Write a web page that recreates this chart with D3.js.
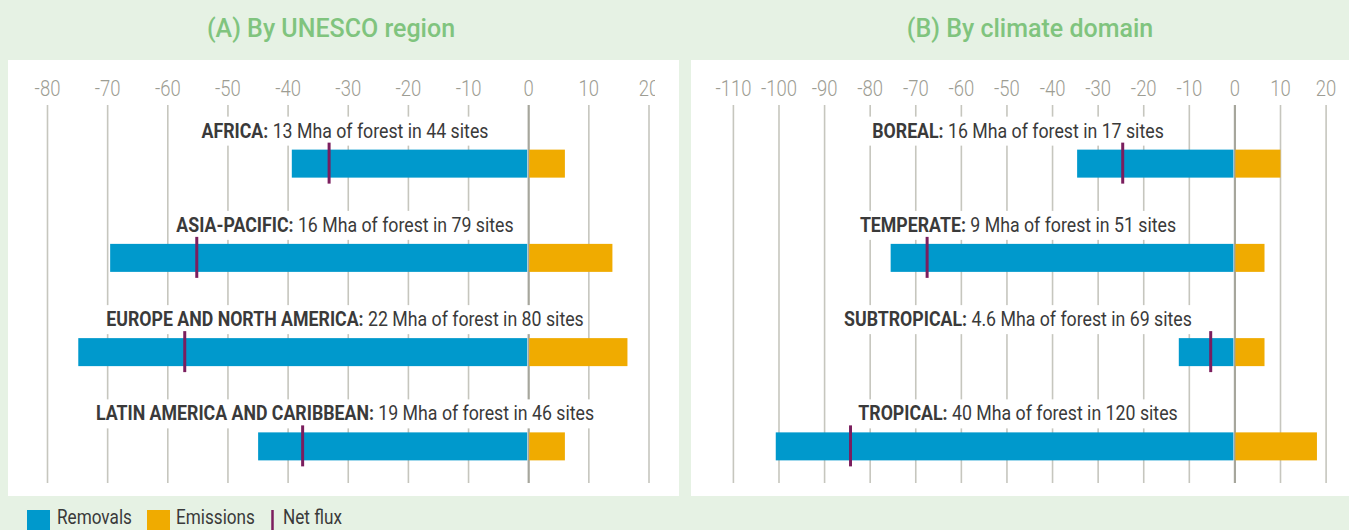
<!DOCTYPE html>
<html><head><meta charset="utf-8">
<script src="https://cdn.jsdelivr.net/npm/d3@7"></script>
<style>
html,body{margin:0;padding:0;background:#e6f2e4;}
svg{display:block;}
</style></head>
<body>
<svg id="chart" width="1349" height="530"></svg>
<script>
// ---------- DATA ----------
const regionCategories = ["AFRICA", "ASIA-PACIFIC", "EUROPE AND NORTH AMERICA", "LATIN AMERICA AND CARIBBEAN"];
const regionDescriptions = ["13 Mha of forest in 44 sites", "16 Mha of forest in 79 sites", "22 Mha of forest in 80 sites", "19 Mha of forest in 46 sites"];
const regionRemovals = [-39.3, -69.5, -74.8, -44.9];
const regionEmissions = [6.1, 14.0, 16.5, 6.1];
const regionNetFlux = [-33.1, -55.1, -57.1, -37.5];
const regionTicks = [-80, -70, -60, -50, -40, -30, -20, -10, 0, 10, 20];

const climateCategories = ["BOREAL", "TEMPERATE", "SUBTROPICAL", "TROPICAL"];
const climateDescriptions = ["16 Mha of forest in 17 sites", "9 Mha of forest in 51 sites", "4.6 Mha of forest in 69 sites", "40 Mha of forest in 120 sites"];
const climateRemovals = [-34.5, -75.4, -12.2, -100.6];
const climateEmissions = [10.1, 6.6, 6.6, 18.1];
const climateNetFlux = [-24.5, -67.4, -5.2, -84.2];
const climateTicks = [-110, -100, -90, -80, -70, -60, -50, -40, -30, -20, -10, 0, 10, 20];

const panelTitles = ["(A) By UNESCO region", "(B) By climate domain"];
const legendLabels = ["Removals", "Emissions", "Net flux"];

// ---------- STYLE ----------
const C = {
  bg: "#e6f2e4", panel: "#ffffff", title: "#80c47e",
  removals: "#0099cc", emissions: "#f0ab00", net: "#7b1e5e",
  grid: "#c6c6be", zero: "#a6a69c", tick: "#9d9d93", text: "#3a3a3a"
};
const FONT = "Roboto, 'Noto Sans', sans-serif";
const SX = 0.88;   // horizontal condensing of text

const svg = d3.select("#chart");
svg.append("rect").attr("width", 1349).attr("height", 530).attr("fill", C.bg);

const panels = [
  { rect: [8, 60, 671, 436], range: [47, 648.5], clipW: 647, titleX: 331, labelX: 345,
    cats: regionCategories, desc: regionDescriptions, rem: regionRemovals, emi: regionEmissions, net: regionNetFlux, ticks: regionTicks },
  { rect: [691, 60, 658, 436], range: [732.9, 1325.6], clipW: 658, titleX: 1030, labelX: 1018,
    cats: climateCategories, desc: climateDescriptions, rem: climateRemovals, emi: climateEmissions, net: climateNetFlux, ticks: climateTicks }
];

const gridTop = 105, gridBottom = 483;
const barH = 28;

panels.forEach((p, pi) => {
  const [px, py, pw, ph] = p.rect;
  svg.append("rect").attr("x", px).attr("y", py).attr("width", pw).attr("height", ph).attr("fill", C.panel);

  // title
  svg.append("text").attr("x", p.titleX).attr("y", 37)
    .attr("text-anchor", "middle").attr("font-family", FONT).attr("font-weight", 500)
    .attr("font-size", 25).attr("fill", C.title).text(panelTitles[pi]);

  const x = d3.scaleLinear().domain([p.ticks[0], p.ticks[p.ticks.length - 1]]).range(p.range);
  const y = d3.scaleBand().domain(p.cats).range([116.5, 493.5]);

  const clipId = "clip" + pi;
  svg.append("clipPath").attr("id", clipId).append("rect")
    .attr("x", px).attr("y", py).attr("width", p.clipW).attr("height", ph);

  const g = svg.append("g").attr("clip-path", `url(#${clipId})`);

  // axis + gridlines
  const axis = d3.axisTop(x).tickValues(p.ticks).tickSize(-(gridBottom - gridTop)).tickPadding(9)
    .tickFormat(d => String(d));
  const ag = g.append("g").attr("transform", `translate(0,${gridTop})`).call(axis);
  ag.select(".domain").remove();
  ag.selectAll(".tick line")
    .attr("stroke", d => d === 0 ? C.zero : C.grid)
    .attr("stroke-width", d => d === 0 ? 2.2 : 1.6);
  ag.selectAll(".tick text")
    .attr("font-family", FONT).attr("font-weight", 300).attr("font-size", 22)
    .attr("fill", C.tick).attr("transform", `scale(0.84,1)`);

  // labels with white background
  const rows = p.cats.map((c, i) => ({ cat: c, desc: p.desc[i], rem: p.rem[i], emi: p.emi[i], net: p.net[i] }));
  const lg = g.append("g");
  rows.forEach(r => {
    const cy = y(r.cat) + y.bandwidth() / 2;
    const lbl = lg.append("g");
    const bg = lbl.append("rect").attr("fill", "#fff");
    const t = lbl.append("text")
      .attr("transform", `translate(${p.labelX},${cy - 26}) scale(${SX + 0.03},1)`)
      .attr("text-anchor", "middle").attr("font-family", FONT).attr("font-size", 19.5).attr("fill", C.text);
    t.append("tspan").attr("font-weight", 700).text(r.cat + ":");
    t.append("tspan").attr("font-weight", 400).text(" " + r.desc);
    const bb = t.node().getBoundingClientRect();
    bg.attr("x", bb.left - 4).attr("width", bb.width + 8).attr("y", cy - 47).attr("height", 29);
  });

  // bars
  const bg2 = g.append("g");
  const zx = x(0);
  bg2.selectAll("rect.rem").data(rows).join("rect").attr("class", "rem")
    .attr("x", d => x(d.rem)).attr("width", d => zx - 1 - x(d.rem))
    .attr("y", d => y(d.cat) + y.bandwidth() / 2 - barH / 2).attr("height", barH)
    .attr("fill", C.removals);
  bg2.selectAll("rect.emi").data(rows).join("rect").attr("class", "emi")
    .attr("x", zx + 1).attr("width", d => x(d.emi) - zx - 1)
    .attr("y", d => y(d.cat) + y.bandwidth() / 2 - barH / 2).attr("height", barH)
    .attr("fill", C.emissions);
  bg2.selectAll("line.net").data(rows).join("line").attr("class", "net")
    .attr("x1", d => x(d.net)).attr("x2", d => x(d.net))
    .attr("y1", d => y(d.cat) + y.bandwidth() / 2 - 21)
    .attr("y2", d => y(d.cat) + y.bandwidth() / 2 + 20)
    .attr("stroke", C.net).attr("stroke-width", 3);
});

// legend
const leg = svg.append("g");
const legendItems = [
  { label: legendLabels[0], type: "rect", color: C.removals, x: 27, tx: 57 },
  { label: legendLabels[1], type: "rect", color: C.emissions, x: 147, tx: 176 },
  { label: legendLabels[2], type: "line", color: C.net, x: 272.5, tx: 283 }
];
legendItems.forEach(it => {
  if (it.type === "rect") {
    leg.append("rect").attr("x", it.x).attr("y", 510).attr("width", 23).attr("height", 23).attr("fill", it.color);
  } else {
    leg.append("line").attr("x1", it.x).attr("x2", it.x).attr("y1", 510).attr("y2", 533)
      .attr("stroke", it.color).attr("stroke-width", 2.5);
  }
  leg.append("text").attr("transform", `translate(${it.tx},524) scale(${SX},1)`)
    .attr("font-family", FONT).attr("font-size", 19.5).attr("fill", C.text).text(it.label);
});
</script>
</body></html>
